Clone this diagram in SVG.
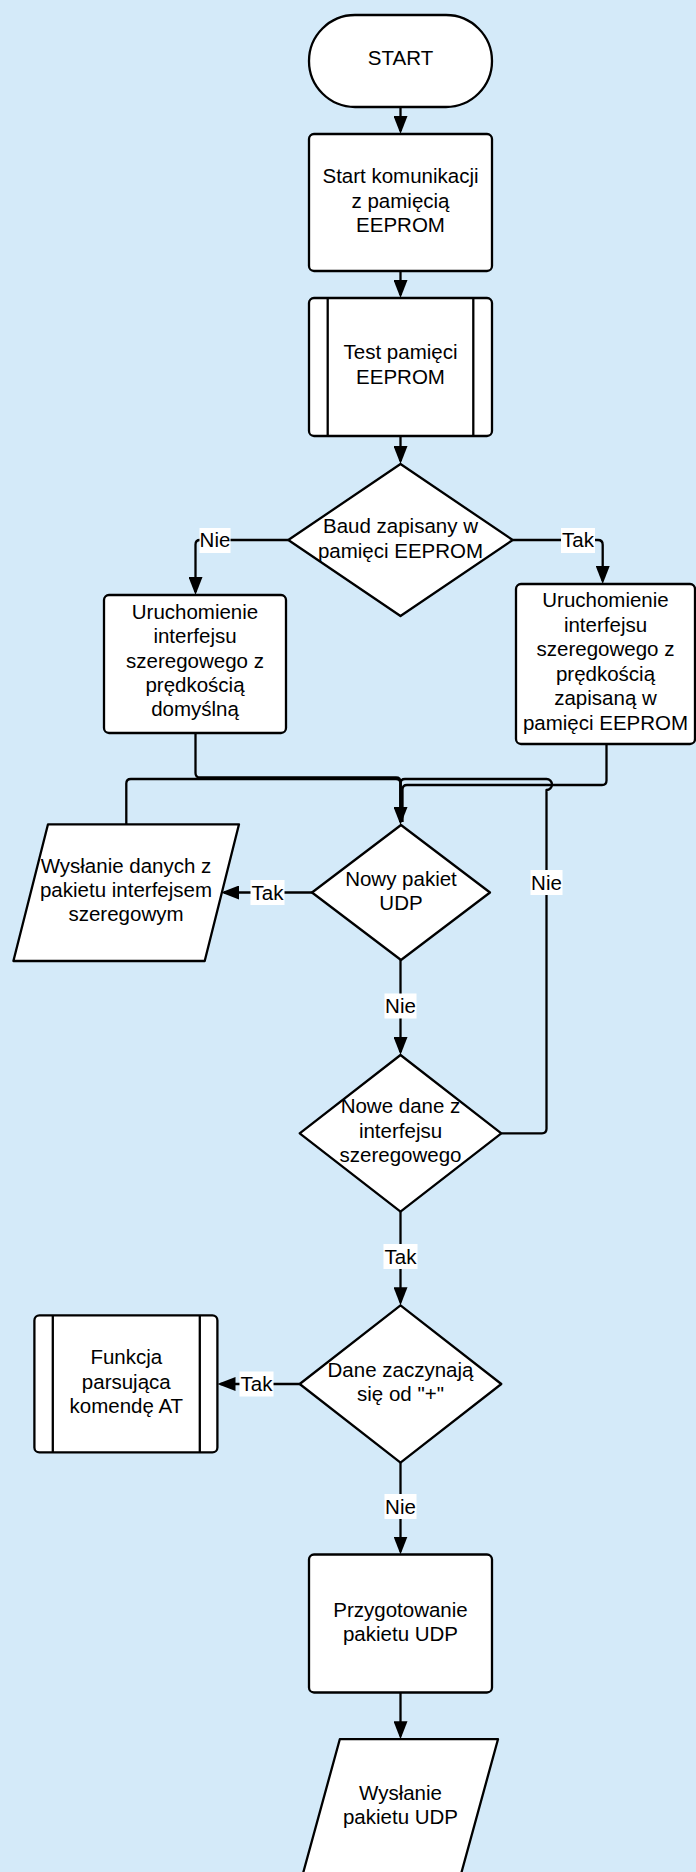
<svg xmlns="http://www.w3.org/2000/svg" width="696" height="1872" viewBox="0 0 696 1872">
<defs>
<marker id="arr" viewBox="0 0 18 14" refX="15" refY="7" markerWidth="18" markerHeight="14" markerUnits="userSpaceOnUse" orient="auto">
<path d="M0,0 L18,7 L0,14 z" fill="#000"/>
</marker>
<style>
.n{fill:#fff;stroke:#000;stroke-width:2.3;stroke-linejoin:round}
.l{fill:none;stroke:#000;stroke-width:2.3}
.c{fill:none;stroke:#000;stroke-width:2.3;stroke-linejoin:round}
.a{marker-end:url(#arr)}
text{font-family:"Liberation Sans",Arial,sans-serif;font-size:20.5px;fill:#000;text-anchor:middle}
.lb{fill:#fff}
</style>
</defs>
<rect x="0" y="0" width="696" height="1872" fill="#d4eaf9"/>

<g id="connectors">
<path class="c a" d="M400.5,107 V131"/>
<path class="c a" d="M400.5,271 V295"/>
<path class="c a" d="M400.5,436 V461"/>
<path class="c a" d="M288.3,540 H200 Q195.5,540 195.5,544.5 V592"/>
<path class="c a" d="M512.7,540 H598 Q602.7,540 602.7,544.7 V581"/>
<path class="c" d="M195.5,733 V773 Q195.5,777.5 200,777.5 H396 Q400.5,777.5 400.5,782 V822"/>
<path class="c" d="M126.3,824.3 V783.5 Q126.3,779 130.8,779 H396 Q400.5,779 400.5,783.5 V822"/>
<path class="c" d="M606.5,744 V780.5 Q606.5,785 602,785 H407 Q402.5,785 402.5,789.5 V822"/>
<path class="c a" d="M501.3,1133.3 H542 Q546.5,1133.3 546.5,1128.8 V790 A5.5,5.5 0 0 0 546.5,779 H405 Q400.5,779 400.5,783.5 V822"/>
<path class="c a" d="M312,892.5 H224"/>
<path class="c a" d="M400.5,960 V1052"/>
<path class="c a" d="M400.5,1211.7 V1302.3"/>
<path class="c a" d="M299.7,1384 H220.5"/>
<path class="c a" d="M400.5,1462.6 V1551.5"/>
<path class="c a" d="M400.5,1692.4 V1736.2"/>
<rect class="lb" x="199.5" y="528" width="31" height="25"/><text x="215" y="547">Nie</text>
<rect class="lb" x="561" y="528" width="34" height="25"/><text x="578" y="547">Tak</text>
<rect class="lb" x="250.5" y="880" width="34" height="25"/><text x="267.5" y="899.5">Tak</text>
<rect class="lb" x="530.5" y="870" width="32" height="25"/><text x="546.5" y="889.5">Nie</text>
<rect class="lb" x="384.5" y="993.5" width="32" height="25"/><text x="400.5" y="1013">Nie</text>
<rect class="lb" x="383.5" y="1244" width="34" height="25"/><text x="400.5" y="1263.5">Tak</text>
<rect class="lb" x="239.5" y="1371.5" width="34" height="25"/><text x="256.5" y="1391">Tak</text>
<rect class="lb" x="384.5" y="1494" width="32" height="25"/><text x="400.5" y="1513.5">Nie</text>
</g>

<g id="start">
<rect class="n" x="309" y="15" width="183" height="92" rx="46"/>
<text x="400.5" y="65">START</text>
</g>
<g id="start-kom">
<rect class="n" x="309" y="134" width="183" height="137" rx="5"/>
<text x="400.5" y="183">Start komunikacji</text>
<text x="400.5" y="207.5">z pamięcią</text>
<text x="400.5" y="232">EEPROM</text>
</g>
<g id="test">
<rect class="n" x="309" y="298" width="183" height="138" rx="5"/>
<line class="l" x1="327.7" y1="298" x2="327.7" y2="436"/>
<line class="l" x1="473.3" y1="298" x2="473.3" y2="436"/>
<text x="400.5" y="359.3">Test pamięci</text>
<text x="400.5" y="383.6">EEPROM</text>
</g>
<g id="baud">
<polygon class="n" points="400.5,464 512.7,540 400.5,616 288.3,540"/>
<text x="400.5" y="533.3">Baud zapisany w</text>
<text x="400.5" y="557.6">pamięci EEPROM</text>
</g>
<g id="uart-default">
<rect class="n" x="104" y="595" width="182" height="138" rx="5"/>
<text x="195" y="619">Uruchomienie</text>
<text x="195" y="643.3">interfejsu</text>
<text x="195" y="667.6">szeregowego z</text>
<text x="195" y="691.9">prędkością</text>
<text x="195" y="716.2">domyślną</text>
</g>
<g id="uart-eeprom">
<rect class="n" x="516" y="584" width="179" height="160" rx="5"/>
<text x="605.5" y="607.3">Uruchomienie</text>
<text x="605.5" y="631.7">interfejsu</text>
<text x="605.5" y="656.2">szeregowego z</text>
<text x="605.5" y="680.6">prędkością</text>
<text x="605.5" y="705">zapisaną w</text>
<text x="605.5" y="729.5">pamięci EEPROM</text>
</g>
<g id="send-serial">
<polygon class="n" points="48,824.3 239,824.3 204.7,961 13.4,961"/>
<text x="126" y="872.7">Wysłanie danych z</text>
<text x="126" y="896.7">pakietu interfejsem</text>
<text x="126" y="921">szeregowym</text>
</g>
<g id="new-udp">
<polygon class="n" points="401,825 490,892.5 401,960 312,892.5"/>
<text x="401" y="885.5">Nowy pakiet</text>
<text x="401" y="909.5">UDP</text>
</g>
<g id="new-serial">
<polygon class="n" points="400.5,1055 501.3,1133.3 400.5,1211.7 299.7,1133.3"/>
<text x="400.5" y="1113">Nowe dane z</text>
<text x="400.5" y="1137.5">interfejsu</text>
<text x="400.5" y="1162">szeregowego</text>
</g>
<g id="starts-plus">
<polygon class="n" points="400.5,1305.3 501.3,1384 400.5,1462.6 299.7,1384"/>
<text x="400.5" y="1377">Dane zaczynają</text>
<text x="400.5" y="1401">się od "+"</text>
</g>
<g id="at-parser">
<rect class="n" x="34.4" y="1315.4" width="183" height="137" rx="5"/>
<line class="l" x1="52.8" y1="1315.4" x2="52.8" y2="1452.4"/>
<line class="l" x1="199.8" y1="1315.4" x2="199.8" y2="1452.4"/>
<text x="126.3" y="1364">Funkcja</text>
<text x="126.3" y="1389">parsująca</text>
<text x="126.3" y="1413">komendę AT</text>
</g>
<g id="prep-udp">
<rect class="n" x="309" y="1554.5" width="183" height="138" rx="5"/>
<text x="400.5" y="1617">Przygotowanie</text>
<text x="400.5" y="1641">pakietu UDP</text>
</g>
<g id="send-udp">
<polygon class="n" points="339.8,1739.2 498,1739.2 460.5,1876 302.3,1876"/>
<text x="400.5" y="1799.5">Wysłanie</text>
<text x="400.5" y="1824">pakietu UDP</text>
</g>
</svg>
